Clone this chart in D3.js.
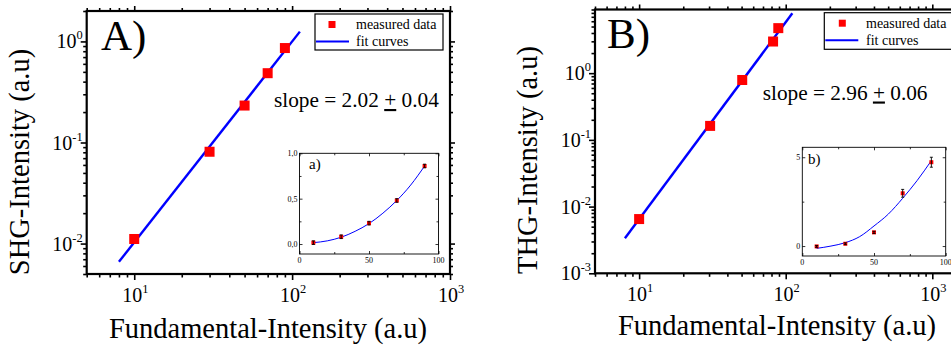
<!DOCTYPE html>
<html><head><meta charset="utf-8">
<script src="https://cdn.jsdelivr.net/npm/d3@7/dist/d3.min.js"></script>
<style>
html,body{margin:0;padding:0;background:#fff;overflow:hidden}
svg{display:block}
text{font-family:"Liberation Serif","Times New Roman",serif;fill:#000}
</style></head><body>
<svg id="chart" width="951" height="347"></svg>
<script>
// ---------- data ----------
const fundA = [10, 30, 50, 70, 90];
const shgA = [0.0111, 0.081, 0.232, 0.485, 0.86];
const fitAX = [8, 112];
const fitAY = [0.0066, 1.25];

const fundB = [10, 30.5, 50.5, 82, 89];
const thgB = [0.0065, 0.162, 0.79, 2.98, 4.73];
const fitBX = [8, 111];
const fitBY = [0.00336, 7.9];

const insetX = [10, 30, 50, 70, 90];
const insetAY = [0.015, 0.08, 0.23, 0.48, 0.86];
const insetAErr = [0.02, 0.02, 0.02, 0.02, 0.02];
const insetBY = [-0.02, 0.13, 0.77, 2.97, 4.72];
const insetBErr = [0.05, 0.05, 0.06, 0.22, 0.28];
const insetFitX = [10, 20, 30, 40, 50, 60, 70, 80, 90];
const insetAFitY = [0.015, 0.035, 0.075, 0.14, 0.225, 0.34, 0.48, 0.65, 0.86];
const insetBFitY = [-0.13, 0.0, 0.19, 0.53, 1.13, 1.8, 2.69, 3.68, 4.81];

const xExps = [1, 2, 3];
const yExpsA = [0, -1, -2];
const yExpsB = [0, -1, -2, -3];
const insetXTicks = [0, 50, 100];
const insetAYTicks = [0, 0.5, 1.0];
const insetAYLabels = ["0,0", "0,5", "1,0"];
const insetBYTicks = [0, 5];
const insetBYLabels = ["0", "5"];

const legendLabels = ["measured data", "fit curves"];
const panelLetters = ["A)", "B)"];
const yTitles = ["SHG-Intensity (a.u)", "THG-Intensity (a.u)"];
const xTitle = "Fundamental-Intensity (a.u)";
const slopeVals = ["2.02", "2.96"];
const slopeErrs = ["0.04", "0.06"];
const insetLetters = ["a)", "b)"];

const RED = "#ff0000", BLUE = "#0000ff";
const svg = d3.select("#chart");

function supLabel(g, x, y, exp, anchor, size) {
  const t = g.append("text").attr("x", x).attr("y", y)
    .attr("text-anchor", anchor).style("font-size", size + "px");
  t.append("tspan").text("10");
  t.append("tspan").attr("dy", -size * 0.45).style("font-size", (size * 0.62) + "px").text(exp);
}

function drawPanel(p) {
  const g = svg.append("g");
  const x = d3.scaleLog().domain(p.xDom).range([p.left, p.xRangeR]);
  const y = d3.scaleLog().domain(p.yDom).range([p.bottom, p.top]);
  const right = p.frameRight;

  const allX = x.ticks().filter(v => v <= p.xDom[1] * 1.0001);
  const majX = allX.filter(v => Math.abs(Math.log10(v) - Math.round(Math.log10(v))) < 1e-9);
  const minX = allX.filter(v => !majX.includes(v));
  const allY = y.ticks();
  const majY = allY.filter(v => Math.abs(Math.log10(v) - Math.round(Math.log10(v))) < 1e-9);
  const minY = allY.filter(v => !majY.includes(v));

  const axStyle = sel => { sel.select(".domain").remove(); sel.selectAll("line").attr("stroke", "#000").attr("stroke-width", 1.6); sel.selectAll("text").remove(); };
  g.append("g").attr("transform", `translate(0,${p.bottom})`).call(d3.axisBottom(x).tickValues(majX).tickSize(6)).call(axStyle);
  g.append("g").attr("transform", `translate(0,${p.bottom})`).call(d3.axisBottom(x).tickValues(minX).tickSize(3.5)).call(axStyle);
  g.append("g").attr("transform", `translate(0,${p.top})`).call(d3.axisTop(x).tickValues(majX).tickSize(5)).call(axStyle);
  g.append("g").attr("transform", `translate(0,${p.top})`).call(d3.axisTop(x).tickValues(minX).tickSize(3)).call(axStyle);
  g.append("g").attr("transform", `translate(${p.left},0)`).call(d3.axisLeft(y).tickValues(majY).tickSize(6)).call(axStyle);
  g.append("g").attr("transform", `translate(${p.left},0)`).call(d3.axisLeft(y).tickValues(minY).tickSize(3.5)).call(axStyle);
  g.append("g").attr("transform", `translate(${right},0)`).call(d3.axisRight(y).tickValues(majY).tickSize(5)).call(axStyle);
  g.append("g").attr("transform", `translate(${right},0)`).call(d3.axisRight(y).tickValues(minY).tickSize(3)).call(axStyle);

  g.append("rect").attr("x", p.left).attr("y", p.top).attr("width", right - p.left).attr("height", p.bottom - p.top)
    .attr("fill", "none").attr("stroke", "#000").attr("stroke-width", 2.2);

  xExps.forEach(e => supLabel(g, x(Math.pow(10, e)) + 1, p.bottom + 28, e, "middle", 20));
  p.yExps.forEach(e => supLabel(g, p.left - 4, y(Math.pow(10, e)) + 7, e, "end", 20));

  g.append("text").attr("x", p.xTitleX).attr("y", p.xTitleY).attr("text-anchor", "middle")
    .style("font-size", "28.5px").text(xTitle);
  g.append("text").attr("transform", `translate(${p.yTitleX},${p.yTitleY}) rotate(-90)`)
    .attr("text-anchor", "middle").style("font-size", "28.5px").text(p.yTitle);

  const line = d3.line().x(d => x(d[0])).y(d => y(d[1]));
  g.append("path").datum(d3.zip(p.fitX, p.fitY)).attr("d", line)
    .attr("fill", "none").attr("stroke", BLUE).attr("stroke-width", 2.4);

  const ms = 10;
  g.selectAll("rect.m").data(d3.zip(p.dx, p.dy)).join("rect").attr("class", "m")
    .attr("x", d => x(d[0]) - ms / 2).attr("y", d => y(d[1]) - ms / 2)
    .attr("width", ms).attr("height", ms).attr("fill", RED);

  g.append("text").attr("x", p.letterX).attr("y", p.letterY).style("font-size", "43px").text(p.letter);

  const st = g.append("text").attr("x", p.slopeX).attr("y", p.slopeY).style("font-size", "21.3px");
  st.append("tspan").text(`slope = ${p.slope} `);
  st.append("tspan").style("text-decoration", "underline").text("+");
  st.append("tspan").text(` ${p.slopeErr}`);

  const L = p.legend;
  g.append("rect").attr("x", L.x).attr("y", L.y).attr("width", L.w).attr("height", L.h)
    .attr("fill", "#fff").attr("stroke", "#000").attr("stroke-width", 1.2);
  g.append("rect").attr("x", L.mx - 3.5).attr("y", L.y + 7).attr("width", 7).attr("height", 7).attr("fill", RED);
  g.append("line").attr("x1", L.x + 1).attr("x2", L.x + 34).attr("y1", L.y + 27.5).attr("y2", L.y + 27.5)
    .attr("stroke", BLUE).attr("stroke-width", 2);
  g.append("text").attr("x", L.tx).attr("y", L.y + 15).style("font-size", "14px").text(legendLabels[0]);
  g.append("text").attr("x", L.tx).attr("y", L.y + 32).style("font-size", "14px").text(legendLabels[1]);

  const I = p.inset;
  const gi = g.append("g");
  const ix = d3.scaleLinear().domain([0, 100]).range([I.l, I.r]);
  const iy = d3.scaleLinear().domain(I.yDom).range([I.b, I.t]);
  gi.append("rect").attr("x", I.l).attr("y", I.t).attr("width", I.r - I.l).attr("height", I.b - I.t)
    .attr("fill", "#fff").attr("stroke", "#000").attr("stroke-width", 0.9);
  const iaxStyle = sel => { sel.select(".domain").remove(); sel.selectAll("line").attr("stroke", "#000").attr("stroke-width", 0.8); sel.selectAll("text").remove(); };
  const xMinors = [25, 75];
  gi.append("g").attr("transform", `translate(0,${I.b})`).call(d3.axisTop(ix).tickValues(insetXTicks).tickSize(3)).call(iaxStyle);
  gi.append("g").attr("transform", `translate(0,${I.b})`).call(d3.axisTop(ix).tickValues(xMinors).tickSize(2)).call(iaxStyle);
  gi.append("g").attr("transform", `translate(0,${I.t})`).call(d3.axisBottom(ix).tickValues(insetXTicks).tickSize(3)).call(iaxStyle);
  gi.append("g").attr("transform", `translate(0,${I.t})`).call(d3.axisBottom(ix).tickValues(xMinors).tickSize(2)).call(iaxStyle);
  gi.append("g").attr("transform", `translate(${I.l},0)`).call(d3.axisRight(iy).tickValues(I.yTicks).tickSize(3)).call(iaxStyle);
  gi.append("g").attr("transform", `translate(${I.l},0)`).call(d3.axisRight(iy).tickValues(I.yMinor).tickSize(2)).call(iaxStyle);
  gi.append("g").attr("transform", `translate(${I.r},0)`).call(d3.axisLeft(iy).tickValues(I.yTicks).tickSize(3)).call(iaxStyle);
  gi.append("g").attr("transform", `translate(${I.r},0)`).call(d3.axisLeft(iy).tickValues(I.yMinor).tickSize(2)).call(iaxStyle);
  insetXTicks.forEach(v => gi.append("text").attr("x", ix(v)).attr("y", I.b + 9).attr("text-anchor", "middle").style("font-size", "8px").text(v));
  I.yTicks.forEach((v, i) => gi.append("text").attr("x", I.l - 2).attr("y", iy(v) + 3).attr("text-anchor", "end").style("font-size", "8px").text(I.yLabels[i]));
  gi.append("text").attr("x", I.lx).attr("y", I.ly).style("font-size", "15px").text(I.letter);

  const iline = d3.line().x(d => ix(d[0])).y(d => iy(d[1])).curve(d3.curveMonotoneX);
  gi.append("path").datum(d3.zip(insetFitX, I.fitY)).attr("d", iline)
    .attr("fill", "none").attr("stroke", BLUE).attr("stroke-width", 1);
  const pts = d3.zip(insetX, I.dy, I.err);
  gi.selectAll("rect.ip").data(pts).join("rect").attr("class", "ip")
    .attr("x", d => ix(d[0]) - 2).attr("y", d => iy(d[1]) - 2).attr("width", 4).attr("height", 4).attr("fill", RED);
  gi.selectAll("path.eb").data(pts).join("path").attr("class", "eb")
    .attr("d", d => {
      const cx = ix(d[0]), y1 = iy(d[1] + d[2]), y2 = iy(d[1] - d[2]);
      return `M${cx},${y1}V${y2}M${cx - 1.5},${y1}H${cx + 1.5}M${cx - 1.5},${y2}H${cx + 1.5}`;
    })
    .attr("fill", "none").attr("stroke", "#000").attr("stroke-width", 0.9);
}

drawPanel({
  xDom: [5, 1000], yDom: [0.005, 2],
  left: 86.7, xRangeR: 450, frameRight: 450, top: 11, bottom: 274,
  yExps: yExpsA, dx: fundA, dy: shgA, fitX: fitAX, fitY: fitAY,
  xTitleX: 268, xTitleY: 338, yTitleX: 29, yTitleY: 162, yTitle: yTitles[0],
  letter: panelLetters[0], letterX: 101, letterY: 50,
  slope: slopeVals[0], slopeErr: slopeErrs[0], slopeX: 274, slopeY: 107,
  legend: { x: 315, y: 14, w: 128, h: 36, mx: 332, tx: 356 },
  inset: { l: 299.5, r: 438.5, t: 153.3, b: 254, yDom: [-0.11, 1.0], yTicks: insetAYTicks, yLabels: insetAYLabels,
           yMinor: [0.25, 0.75], letter: insetLetters[0], lx: 309, ly: 169, fitY: insetAFitY, dy: insetAY, err: insetAErr }
});

drawPanel({
  xDom: [5, 1000], yDom: [0.001, 9],
  left: 595, xRangeR: 932.3, frameRight: 966, top: 9.5, bottom: 273.3,
  yExps: yExpsB, dx: fundB, dy: thgB, fitX: fitBX, fitY: fitBY,
  xTitleX: 777, xTitleY: 335, yTitleX: 537, yTitleY: 160, yTitle: yTitles[1],
  letter: panelLetters[1], letterX: 607, letterY: 48,
  slope: slopeVals[1], slopeErr: slopeErrs[1], slopeX: 762.7, slopeY: 99.5,
  legend: { x: 824.3, y: 12.7, w: 140, h: 36.6, mx: 842.3, tx: 866 },
  inset: { l: 802.3, r: 945.7, t: 147.3, b: 256, yDom: [-0.56, 5.56], yTicks: insetBYTicks, yLabels: insetBYLabels,
           yMinor: [2.5], letter: insetLetters[1], lx: 808, ly: 163.5, fitY: insetBFitY, dy: insetBY, err: insetBErr }
});
</script>
</body></html>
